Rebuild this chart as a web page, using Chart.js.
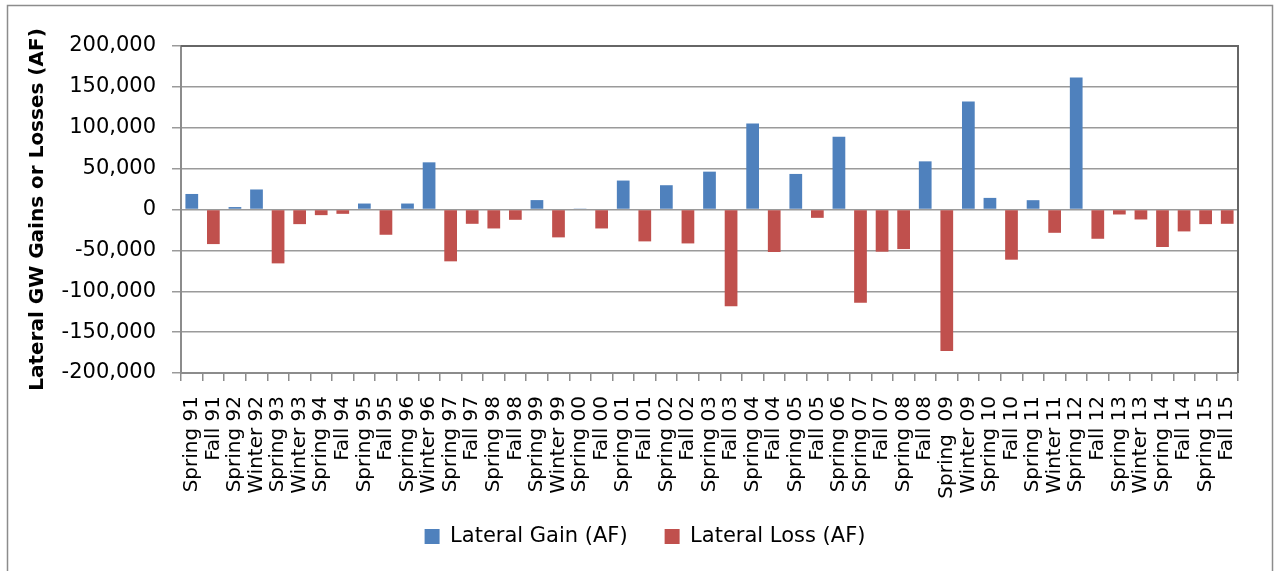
<!DOCTYPE html>
<html>
<head>
<meta charset="utf-8">
<title>Lateral GW Gains or Losses</title>
<script src="https://cdn.jsdelivr.net/npm/chart.js@4.4.1/dist/chart.umd.min.js"></script>
<style>
    html, body { margin: 0; padding: 0; background: #fff; }
    #wrap { width: 1276px; height: 571px; position: relative; }
</style>
</head>
<body>
<div id="wrap"><canvas id="gwChart" width="1276" height="571"></canvas></div>
<script>
// seasons on the x axis
const seasons = [
    'Spring 91', 'Fall 91', 'Spring 92', 'Winter 92', 'Spring 93', 'Winter 93', 'Spring 94', 'Fall 94',
    'Spring 95', 'Fall 95', 'Spring 96', 'Winter 96', 'Spring 97', 'Fall 97', 'Spring 98', 'Fall 98',
    'Spring 99', 'Winter 99', 'Spring 00', 'Fall 00', 'Spring 01', 'Fall 01', 'Spring 02', 'Fall 02',
    'Spring 03', 'Fall 03', 'Spring 04', 'Fall 04', 'Spring 05', 'Fall 05', 'Spring 06', 'Spring 07',
    'Fall 07', 'Spring 08', 'Fall 08', 'Spring  09', 'Winter 09', 'Spring 10', 'Fall 10', 'Spring 11',
    'Winter 11', 'Spring 12', 'Fall 12', 'Spring 13', 'Winter 13', 'Spring 14', 'Fall 14', 'Spring 15',
    'Fall 15'
];

// lateral gains (AF), null where the season is a loss
const lateralGain = [
    19000, null, 3000, 24500, null, null, null, null,
    7300, null, 7300, 57700, null, null, null, null,
    11500, null, 1200, null, 35400, null, 29700, null,
    46300, null, 105300, null, 43500, null, 89000, null,
    null, null, 58900, null, 132000, 14200, null, 11400,
    null, 161400, null, null, null, null, null, null,
    null
];

// lateral losses (AF), null where the season is a gain
const lateralLoss = [
    null, -42300, null, null, -65900, -17900, -6900, -5300,
    null, -30900, null, null, -63400, -17500, -23200, -12600,
    null, -34100, null, -23200, null, -39000, null, -41500,
    null, -118300, null, -52000, null, -10200, null, -114200,
    -51600, -48400, null, -173200, null, null, -61400, null,
    -28500, null, -35800, -6100, -12200, -45900, -26800, -17900,
    -17500
];

// y axis range
const yMin = -200000;
const yMax = 200000;
const yStep = 50000;

const gainColor = '#4F81BD';
const lossColor = '#C0504D';

// outer frame + plot area border (top and right edge)
const framePlugin = {
    id: 'frame',
    afterLayout(chart) {
        // pull the legend a bit closer to the axis labels
        chart.legend.top -= 14;
        chart.legend.bottom -= 14;
    },
    beforeDraw(chart) {
        const ctx = chart.ctx;
        ctx.save();
        ctx.fillStyle = '#ffffff';
        ctx.fillRect(0, 0, chart.width, chart.height);
        ctx.strokeStyle = '#8c8c8c';
        ctx.lineWidth = 1.5;
        ctx.strokeRect(7.5, 5.5, 1265, 600);
        ctx.restore();
    },
    afterDraw(chart) {
        const { left, right, top, bottom } = chart.chartArea;
        const ctx = chart.ctx;
        ctx.save();
        ctx.strokeStyle = '#666666';
        ctx.lineWidth = 2;
        ctx.beginPath();
        ctx.moveTo(left, top);
        ctx.lineTo(right, top);
        ctx.lineTo(right, bottom);
        ctx.stroke();
        ctx.restore();
    }
};

const ctx = document.getElementById('gwChart').getContext('2d');
const gwChart = new Chart(ctx, {
    type: 'bar',
    data: {
        labels: seasons,
        datasets: [
            {
                label: 'Lateral Gain (AF)',
                data: lateralGain,
                backgroundColor: gainColor,
                grouped: false,
                barPercentage: 0.59,
                categoryPercentage: 1
            },
            {
                label: 'Lateral Loss (AF)',
                data: lateralLoss,
                backgroundColor: lossColor,
                grouped: false,
                barPercentage: 0.59,
                categoryPercentage: 1
            }
        ]
    },
    options: {
        responsive: false,
        animation: false,
        devicePixelRatio: 1,
        layout: {
            padding: { left: 52, top: 46, right: 38, bottom: 0 }
        },
        plugins: {
            legend: {
                position: 'bottom',
                labels: {
                    boxWidth: 15,
                    boxHeight: 15,
                    padding: 37,
                    color: '#000',
                    font: { family: 'DejaVu Sans', size: 21 }
                }
            },
            tooltip: { enabled: false }
        },
        scales: {
            x: {
                offset: true,
                grid: {
                    offset: true,
                    drawOnChartArea: false,
                    drawTicks: true,
                    tickLength: 8,
                    color: '#8c8c8c',
                    lineWidth: 1.5
                },
                border: { color: '#8c8c8c', width: 2 },
                ticks: {
                    autoSkip: false,
                    maxRotation: 90,
                    minRotation: 90,
                    padding: 15,
                    color: '#000',
                    font: { family: 'DejaVu Sans', size: 20 }
                },
                afterFit: (scale) => { scale.height = 130; }
            },
            y: {
                min: yMin,
                max: yMax,
                grid: {
                    color: '#9a9a9a',
                    lineWidth: 1.5,
                    tickLength: 9
                },
                border: { color: '#8c8c8c', width: 2 },
                ticks: {
                    stepSize: yStep,
                    padding: 16,
                    color: '#000',
                    font: { family: 'DejaVu Sans', size: 21 },
                    callback: (value) => value.toLocaleString('en-US')
                },
                title: {
                    display: true,
                    text: 'Lateral GW Gains or Losses (AF)',
                    color: '#000',
                    padding: { top: -26, bottom: 0 },
                    font: { family: 'DejaVu Sans', size: 20, weight: 'bold' }
                },
                afterFit: (scale) => { scale.width = 129; }
            }
        }
    },
    plugins: [framePlugin]
});
</script>
</body>
</html>
